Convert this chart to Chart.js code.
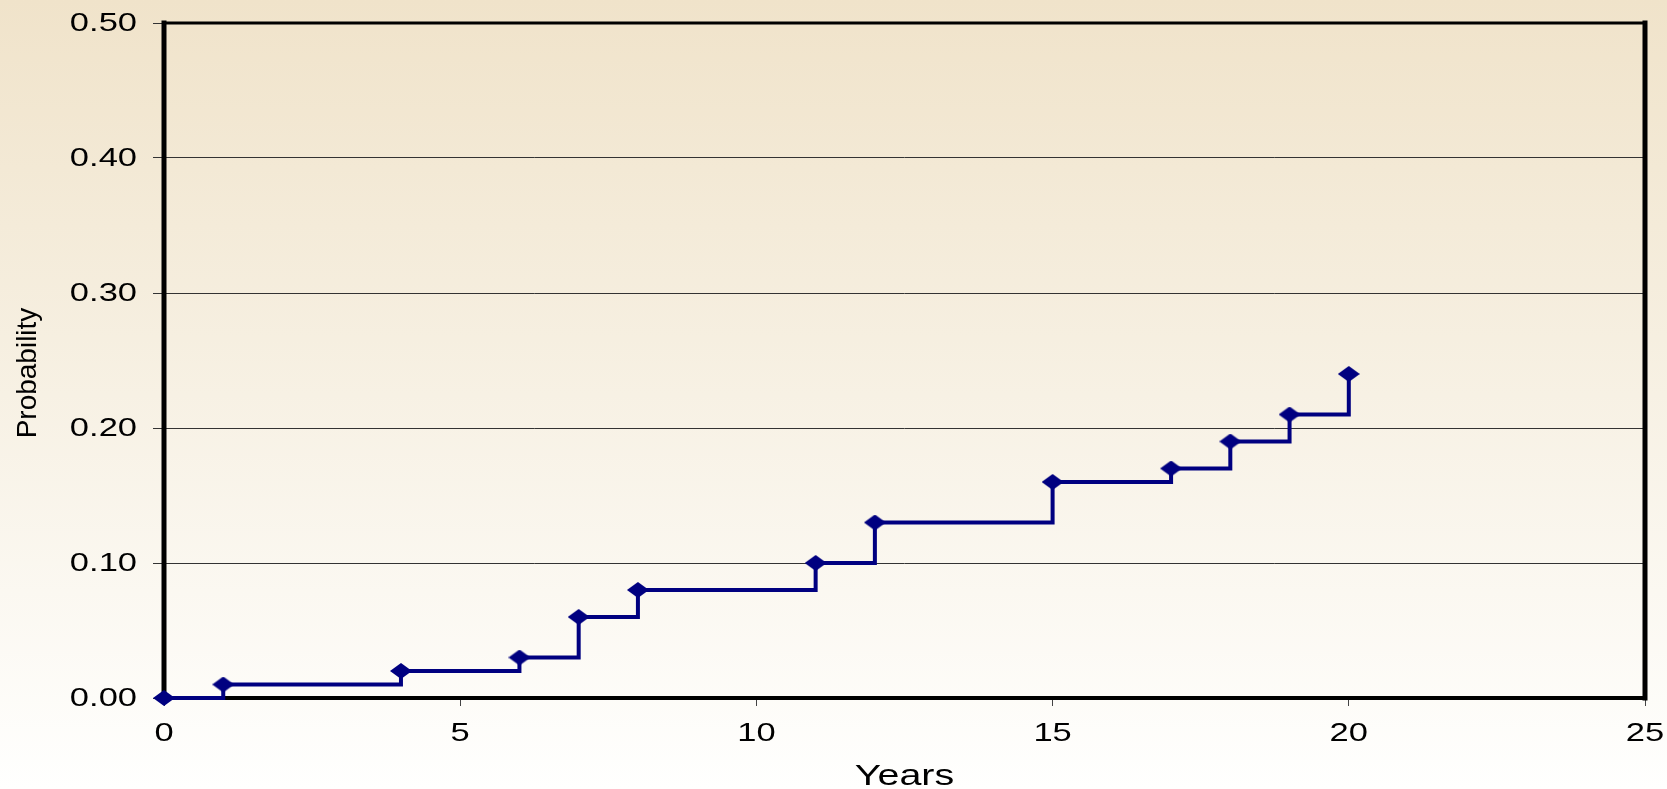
<!DOCTYPE html>
<html>
<head>
<meta charset="utf-8">
<script src="https://cdn.jsdelivr.net/npm/chart.js@4.4.1/dist/chart.umd.min.js"></script>
<style>
  html, body { margin: 0; padding: 0; }
  body { width: 1667px; height: 789px; background: linear-gradient(#f0e3ca, #f7f1e4 50%, #fffffe); overflow: hidden; }
  canvas { display: block; }
</style>
</head>
<body>
<canvas id="grafico" width="1667" height="789"></canvas>
<script>
// datos
const years = [0, 1, 4, 6, 7, 8, 11, 12, 15, 17, 18, 19, 20];
const probability = [0, 0.01, 0.02, 0.03, 0.06, 0.08, 0.10, 0.13, 0.16, 0.17, 0.19, 0.21, 0.24];
const xTickLabels = ['0', '5', '10', '15', '20', '25'];
const yTickLabels = ['0.00', '0.10', '0.20', '0.30', '0.40', '0.50'];
const xTitle = 'Years';
const yTitle = 'Probability';

const FONT = '"Liberation Sans", Arial, sans-serif';
const STRETCH = 1.38;

// marcador rombo aplanado
function diamond(w, h) {
    const c = document.createElement('canvas');
    c.width = w; c.height = h;
    const g = c.getContext('2d');
    g.fillStyle = '#000080';
    g.beginPath();
    g.moveTo(w / 2, 0);
    g.lineTo(w, h / 2);
    g.lineTo(w / 2, h);
    g.lineTo(0, h / 2);
    g.closePath();
    g.fill();
    return c;
}

// marco negro y textos
const framePlugin = {
    id: 'frame',
    beforeDatasetsDraw(chart) {
        const {ctx, chartArea: a} = chart;
        ctx.save();
        ctx.strokeStyle = '#000';
        ctx.lineCap = 'square';
        ctx.lineWidth = 3;
        ctx.beginPath(); ctx.moveTo(a.left, a.top); ctx.lineTo(a.right, a.top); ctx.stroke();
        ctx.lineWidth = 4;
        ctx.beginPath(); ctx.moveTo(a.left, a.bottom); ctx.lineTo(a.right, a.bottom); ctx.stroke();
        ctx.lineWidth = 5;
        ctx.beginPath(); ctx.moveTo(a.left, a.top); ctx.lineTo(a.left, a.bottom); ctx.stroke();
        ctx.beginPath(); ctx.moveTo(a.right, a.top); ctx.lineTo(a.right, a.bottom); ctx.stroke();
        ctx.restore();
    },
    afterDraw(chart) {
        const {ctx, chartArea: a} = chart;
        const xs = chart.scales.x, ys = chart.scales.y;
        ctx.save();
        ctx.fillStyle = '#000';
        ctx.textBaseline = 'middle';

        // etiquetas eje y
        ctx.font = '25px ' + FONT;
        ctx.textAlign = 'right';
        ys.ticks.forEach((t, i) => {
            const y = ys.getPixelForValue(t.value);
            ctx.save();
            ctx.translate(137, y + 1);
            ctx.scale(STRETCH, 1);
            ctx.fillText(yTickLabels[i], 0, 0);
            ctx.restore();
        });

        // etiquetas eje x
        ctx.textAlign = 'center';
        xs.ticks.forEach((t, i) => {
            const x = xs.getPixelForValue(t.value);
            ctx.save();
            ctx.translate(x, a.bottom + 36);
            ctx.scale(STRETCH, 1);
            ctx.fillText(xTickLabels[i], 0, 0);
            ctx.restore();
        });

        // titulos
        ctx.font = '29px ' + FONT;
        ctx.save();
        ctx.translate((a.left + a.right) / 2, 777);
        ctx.scale(1.36, 1);
        ctx.fillText(xTitle, 0, 0);
        ctx.restore();

        ctx.font = '28px ' + FONT;
        ctx.save();
        ctx.translate(28, 373);
        ctx.rotate(-Math.PI / 2);
        ctx.fillText(yTitle, 0, 0);
        ctx.restore();

        ctx.restore();
    }
};

const ctx = document.getElementById('grafico').getContext('2d');
new Chart(ctx, {
    type: 'line',
    data: {
        datasets: [{
            label: yTitle,
            data: years.map((x, i) => ({x: x, y: probability[i]})),
            borderColor: '#000080',
            backgroundColor: '#000080',
            borderWidth: 4,
            stepped: true,
            fill: false,
            pointStyle: diamond(22, 16),
            pointRadius: 8,
            clip: false
        }]
    },
    options: {
        responsive: false,
        animation: false,
        layout: { padding: { top: 23, right: 22, left: 0, bottom: 0 } },
        plugins: {
            legend: { display: false },
            tooltip: { enabled: false }
        },
        scales: {
            x: {
                type: 'linear',
                min: 0,
                max: 25,
                ticks: { stepSize: 5, display: false },
                grid: { drawOnChartArea: false, drawTicks: true, tickLength: 8, color: '#444', lineWidth: 1 },
                border: { display: false },
                afterFit: s => { s.height = 91; }
            },
            y: {
                min: 0,
                max: 0.5,
                ticks: { stepSize: 0.1, display: false },
                grid: { color: '#333', lineWidth: 1, drawTicks: true, tickLength: 11 },
                border: { display: false },
                afterFit: s => { s.width = 164; }
            }
        }
    },
    plugins: [framePlugin]
});
</script>
</body>
</html>
